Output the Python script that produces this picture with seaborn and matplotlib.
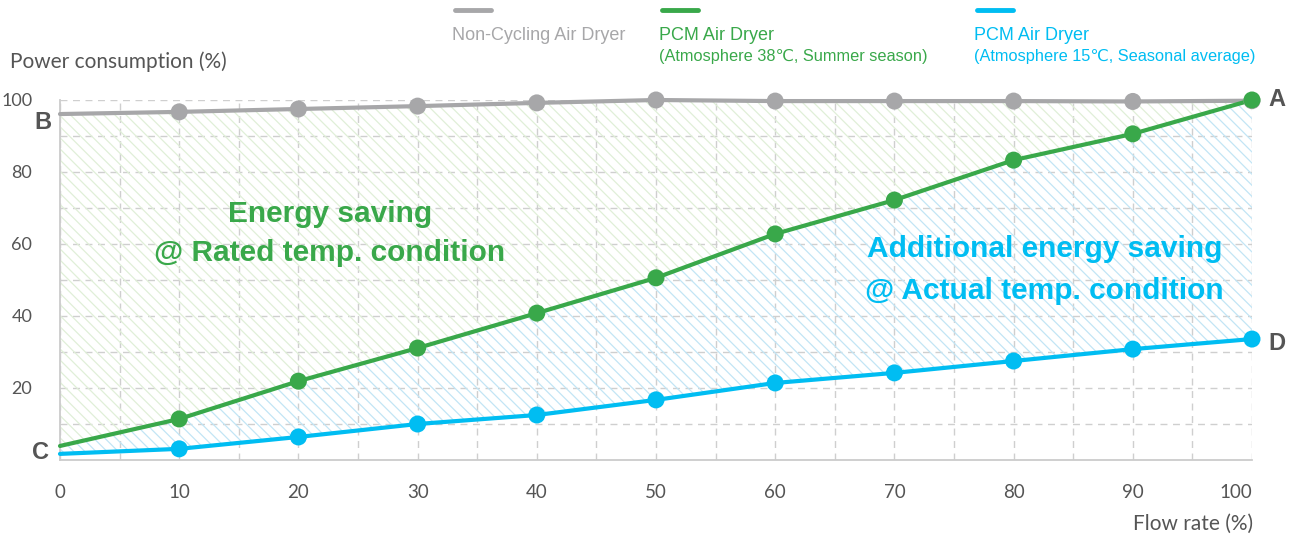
import numpy as np
import matplotlib
matplotlib.use("Agg")
import matplotlib.pyplot as plt
import seaborn as sns
import pandas as pd
from matplotlib.lines import Line2D

# values
flow = [0, 10, 20, 30, 40, 50, 60, 70, 80, 90, 100]
non_cycling = [96.1, 96.7, 97.5, 98.3, 99.2, 100.0, 99.7, 99.7, 99.7, 99.6, 99.8]
pcm_summer = [3.9, 11.4, 21.9, 31.1, 40.8, 50.6, 62.8, 72.2, 83.3, 90.6, 100.0]
pcm_average = [1.7, 3.1, 6.4, 10.0, 12.5, 16.7, 21.4, 24.2, 27.5, 30.8, 33.6]
x_ticks = [0, 10, 20, 30, 40, 50, 60, 70, 80, 90, 100]
y_ticks = [20, 40, 60, 80, 100]

df = pd.DataFrame({"flow": flow, "gray": non_cycling,
                   "green": pcm_summer, "blue": pcm_average})
pts = df[df["flow"] > 0]

GRAY = "#a7a7a9"
GREEN = "#39a84a"
BLUE = "#00bdf2"
TXT = "#555555"

sns.set_style("white")
plt.rcParams["font.family"] = ["Lato", "DejaVu Sans"]
plt.rcParams["hatch.linewidth"] = 0.9

fig = plt.figure(figsize=(12.95, 5.38), dpi=100)
ax = fig.add_axes([60 / 1295, 78 / 538, 1192 / 1295, 360 / 538])

# hatched areas between the curves
ax.fill_between(df["flow"], df["green"], df["gray"], facecolor="none",
                edgecolor="#e0efd8", hatch="\\\\\\", linewidth=0)
ax.fill_between(df["flow"], df["blue"], df["green"], facecolor="none",
                edgecolor="#c2e5f5", hatch="\\\\\\", linewidth=0)

for col, c in [("gray", GRAY), ("blue", BLUE), ("green", GREEN)]:
    sns.lineplot(data=df, x="flow", y=col, color=c, linewidth=3, ax=ax,
                 clip_on=False, zorder=4)
    sns.scatterplot(data=pts, x="flow", y=col, color=c, s=150, ax=ax,
                    edgecolor="none", clip_on=False, zorder=5)

ax.set_xlim(0, 100)
ax.set_ylim(0, 100)
ax.set_xticks(x_ticks)
ax.set_yticks(y_ticks)
ax.set_xticks(np.arange(0, 101, 5), minor=True)
ax.set_yticks(np.arange(10, 101, 10), minor=True)
ax.grid(True, which="both", color="#cfcfcf", linestyle=(0, (5, 4)), linewidth=1)
ax.set_axisbelow(True)
ax.tick_params(which="both", length=0)
ax.tick_params(axis="y", pad=20, labelsize=13, labelcolor=TXT)
ax.tick_params(axis="x", pad=17, labelsize=13.5, labelcolor=TXT)
ax.get_xticklabels()[-1].set_horizontalalignment("right")
for s in ["top", "right"]:
    ax.spines[s].set_visible(False)
for s in ["left", "bottom"]:
    ax.spines[s].set_color("#cccccc")
    ax.spines[s].set_linewidth(1.3)
ax.set_xlabel("")
ax.set_ylabel("")

fig.text(10 / 1295, 1 - 62 / 538, "Power consumption (%)", fontsize=15,
         color=TXT, va="center", ha="left")
fig.text(1253 / 1295, 1 - 524 / 538, "Flow rate (%)", fontsize=15,
         color=TXT, va="center", ha="right")

# point labels
lab = dict(fontsize=17, fontweight="bold", color=TXT, va="center",
           family=["Liberation Sans", "DejaVu Sans"])
ax.annotate("A", (flow[-1], pcm_summer[-1]), xytext=(12, 0),
            textcoords="offset points", ha="left", **lab)
ax.annotate("D", (flow[-1], pcm_average[-1]), xytext=(12, -3),
            textcoords="offset points", ha="left", **lab)
ax.annotate("B", (flow[0], non_cycling[0]), xytext=(-6, -6),
            textcoords="offset points", ha="right", **lab)
ax.annotate("C", (flow[0], pcm_average[0]), xytext=(-8, 1),
            textcoords="offset points", ha="right", **lab)

big = dict(fontsize=21.5, fontweight="bold", ha="center", va="center",
           family=["Liberation Sans", "DejaVu Sans"])
ax.text(22.65, 63, "Energy saving\n@ Rated temp. condition", color=GREEN,
        linespacing=1.5, **big)
ax.text(82.6, 52.8, "Additional energy saving\n@ Actual temp. condition",
        color=BLUE, linespacing=1.62, **big)

# legend on top
leg_font = ["Liberation Sans", "DejaVu Sans"]
for x0, c, l1, l2 in [
    (455, GRAY, "Non-Cycling Air Dryer", None),
    (662, GREEN, "PCM Air Dryer", "(Atmosphere 38\u2103, Summer season)"),
    (977, BLUE, "PCM Air Dryer", "(Atmosphere 15\u2103, Seasonal average)"),
]:
    fig.add_artist(Line2D([x0 / 1295, (x0 + 36) / 1295],
                          [1 - 10 / 538, 1 - 10 / 538],
                          color=c, linewidth=3.5, transform=fig.transFigure))
    fig.text((x0 - 3) / 1295, 1 - 35 / 538, l1, color=c, fontsize=13,
             va="center", ha="left", family=leg_font)
    if l2:
        fig.text((x0 - 3) / 1295, 1 - 57 / 538, l2, color=c, fontsize=11.8,
                 va="center", ha="left", family=leg_font)

fig.savefig("out.png", dpi=100)
